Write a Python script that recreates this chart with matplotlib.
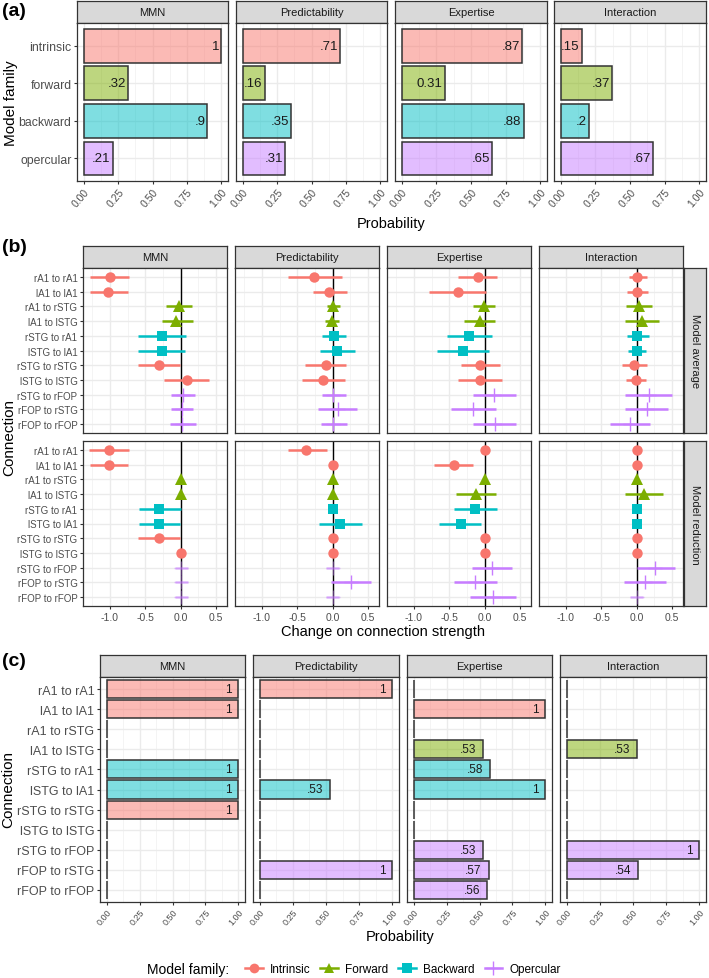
import numpy as np
import matplotlib
matplotlib.use("Agg")
import matplotlib.pyplot as plt
from matplotlib.colors import to_rgba
from matplotlib.lines import Line2D

plt.rcParams['font.family'] = ['Liberation Sans', 'DejaVu Sans']

# --------------------------
# Daten
# --------------------------
conditions = ["MMN", "Predictability", "Expertise", "Interaction"]
families = ["intrinsic", "forward", "backward", "opercular"]
family_names = ["Intrinsic", "Forward", "Backward", "Opercular"]
family_colors = ["#F8766D", "#7CAE00", "#00BFC4", "#C77CFF"]
family_markers = ["o", "^", "s", "+"]

# (a) Wahrscheinlichkeit je Modellfamilie
a_mmn = [1.00, 0.32, 0.90, 0.21]
a_pred = [0.71, 0.16, 0.35, 0.31]
a_exp = [0.87, 0.31, 0.88, 0.65]
a_int = [0.15, 0.37, 0.20, 0.67]
a_mmn_lab = ["1", ".32", ".9", ".21"]
a_pred_lab = [".71", ".16", ".35", ".31"]
a_exp_lab = [".87", "0.31", ".88", ".65"]
a_int_lab = [".15", ".37", ".2", ".67"]

connections = ["rA1 to rA1", "lA1 to lA1", "rA1 to rSTG", "lA1 to lSTG",
               "rSTG to rA1", "lSTG to lA1", "rSTG to rSTG", "lSTG to lSTG",
               "rSTG to rFOP", "rFOP to rSTG", "rFOP to rFOP"]
conn_family = [0, 0, 1, 1, 2, 2, 0, 0, 3, 3, 3]

# (b) Model average
avg_mmn_est = [-1.00, -1.02, -0.03, -0.06, -0.27, -0.27, -0.31, 0.09, 0.03, 0.02, 0.02]
avg_mmn_lo = [-1.28, -1.28, -0.20, -0.27, -0.60, -0.60, -0.60, -0.23, -0.13, -0.13, -0.15]
avg_mmn_hi = [-0.73, -0.75, 0.16, 0.17, 0.07, 0.06, -0.01, 0.40, 0.20, 0.18, 0.21]

avg_pred_est = [-0.26, -0.05, 0.01, -0.01, 0.02, 0.06, -0.10, -0.13, 0.01, 0.07, 0.01]
avg_pred_lo = [-0.63, -0.28, -0.08, -0.11, -0.15, -0.18, -0.39, -0.44, -0.15, -0.20, -0.16]
avg_pred_hi = [0.13, 0.20, 0.10, 0.09, 0.19, 0.31, 0.19, 0.18, 0.19, 0.35, 0.20]

avg_exp_est = [-0.10, -0.38, -0.01, -0.07, -0.22, -0.31, -0.07, -0.07, 0.13, -0.16, 0.14]
avg_exp_lo = [-0.37, -0.78, -0.17, -0.29, -0.53, -0.67, -0.34, -0.37, -0.17, -0.47, -0.17]
avg_exp_hi = [0.17, 0.02, 0.15, 0.15, 0.10, 0.06, 0.21, 0.24, 0.44, 0.16, 0.45]

avg_int_est = [0.01, 0.01, 0.03, 0.07, 0.01, 0.00, -0.04, -0.01, 0.17, 0.15, -0.10]
avg_int_lo = [-0.11, -0.13, -0.15, -0.17, -0.14, -0.12, -0.21, -0.15, -0.16, -0.16, -0.38]
avg_int_hi = [0.15, 0.16, 0.21, 0.32, 0.17, 0.13, 0.15, 0.13, 0.50, 0.45, 0.19]

# (b) Model reduction
red_mmn_est = [-1.01, -1.01, 0, 0, -0.30, -0.30, -0.31, 0, 0, 0, 0]
red_mmn_lo = [-1.29, -1.28, 0, 0, -0.59, -0.59, -0.60, 0, -0.08, -0.08, -0.08]
red_mmn_hi = [-0.73, -0.75, 0, 0, 0.00, -0.01, -0.01, 0, 0.10, 0.10, 0.10]

red_pred_est = [-0.37, 0, 0, 0, 0, 0.10, 0, 0, 0, 0.26, 0]
red_pred_lo = [-0.63, 0, 0, 0, 0, -0.19, 0, 0, -0.09, -0.03, -0.09]
red_pred_hi = [-0.08, 0, 0, 0, 0, 0.41, 0, 0, 0.09, 0.54, 0.09]

red_exp_est = [0, -0.44, 0, -0.12, -0.14, -0.34, 0, 0, 0.11, -0.13, 0.12]
red_exp_lo = [0, -0.72, 0, -0.40, -0.44, -0.64, 0, 0, -0.18, -0.43, -0.20]
red_exp_hi = [0, -0.16, 0, 0.16, 0.17, -0.05, 0, 0, 0.39, 0.17, 0.45]

red_int_est = [0, 0, 0, 0.10, 0, 0, 0, 0, 0.26, 0.12, 0]
red_int_lo = [0, 0, 0, -0.17, 0, 0, 0, 0, 0.00, -0.18, -0.09]
red_int_hi = [0, 0, 0, 0.37, 0, 0, 0, 0, 0.54, 0.42, 0.09]

# (c) Wahrscheinlichkeit je Verbindung
c_mmn = [1, 1, 0, 0, 1, 1, 1, 0, 0, 0, 0]
c_pred = [1, 0, 0, 0, 0, 0.53, 0, 0, 0, 1, 0]
c_exp = [0, 1, 0, 0.53, 0.58, 1, 0, 0, 0.53, 0.57, 0.56]
c_int = [0, 0, 0, 0.53, 0, 0, 0, 0, 1, 0.54, 0]

# --------------------------
# Layout (Pixel)
# --------------------------
W, H = 709, 979
fig = plt.figure(figsize=(W / 100, H / 100), dpi=100)

DARK = "#333333"
TICKCOL = "#4D4D4D"


def add_ax(x0, y0, x1, y1):
    return fig.add_axes([x0 / W, 1 - y1 / H, (x1 - x0) / W, (y1 - y0) / H])


def strip(x0, y0, x1, y1, text, rot=0):
    s = add_ax(x0, y0, x1, y1)
    s.set_facecolor("#D9D9D9")
    s.set_xticks([])
    s.set_yticks([])
    for sp in s.spines.values():
        sp.set_color(DARK)
        sp.set_linewidth(0.9)
    s.text(0.5, 0.5, text, ha="center", va="center", rotation=rot,
           fontsize=8, color="#1A1A1A", transform=s.transAxes)


def base_style(ax):
    for sp in ax.spines.values():
        sp.set_color(DARK)
        sp.set_linewidth(0.9)
    ax.set_axisbelow(True)
    ax.grid(which="major", color="#EBEBEB", lw=1.0)
    ax.grid(which="minor", axis="x", color="#F2F2F2", lw=0.6)
    ax.tick_params(which="major", color=DARK, labelcolor=TICKCOL, length=2.5, width=0.8, pad=1.5)
    ax.tick_params(which="minor", length=0)


def fmt(v):
    return "1" if v == 1 else f"{v:.2f}".lstrip("0")


def bar_panel(ax, vals, labels, colors, lab_size, pad, show_y, ylabels, ysize, xsize):
    n = len(vals)
    y = np.arange(n)
    ax.barh(y, vals, height=0.9, color=[to_rgba(c, 0.5) for c in colors],
            edgecolor=DARK, linewidth=1.1, zorder=2)
    for yi, v, lab in zip(y, vals, labels):
        if v > 0:
            ax.annotate(lab, (v, yi), xytext=(pad, 0), textcoords="offset points",
                        ha="right", va="center", fontsize=lab_size, color="#1A1A1A", zorder=3)
    ax.set_xlim(-0.05, 1.05)
    ax.set_ylim(n - 0.4, -0.6)
    ax.set_xticks([0, 0.25, 0.5, 0.75, 1.0])
    ax.set_xticks([0.125, 0.375, 0.625, 0.875], minor=True)
    ax.set_xticklabels(["0.00", "0.25", "0.50", "0.75", "1.00"], rotation=50,
                       ha="right", rotation_mode="anchor", fontsize=xsize)
    ax.set_yticks(y)
    base_style(ax)
    if show_y:
        ax.set_yticklabels(ylabels, fontsize=ysize)
    else:
        ax.tick_params(axis="y", left=False, labelleft=False)


def point_panel(ax, est, lo, hi, show_y, show_x):
    ax.axvline(0, color="black", lw=1.0, zorder=2)
    for i, (m, l, h) in enumerate(zip(est, lo, hi)):
        fam = conn_family[i]
        col = family_colors[fam]
        alpha = 0.45 if (fam == 3 and m == 0) else 1.0
        if h > l:
            ax.plot([l, h], [i, i], color=col, lw=1.8, alpha=alpha, zorder=3,
                    solid_capstyle="butt")
        if fam == 3:
            ax.plot(m, i, marker="+", ms=10, mew=1.0, color=col, alpha=alpha, zorder=4)
        else:
            ms = {0: 7.5, 1: 8.0, 2: 7.0}[fam]
            ax.plot(m, i, marker=family_markers[fam], ms=ms, mew=0, color=col, zorder=4)
    ax.set_xlim(-1.38, 0.655)
    ax.set_ylim(10.6, -0.6)
    ax.set_xticks([-1.0, -0.5, 0.0, 0.5])
    ax.set_xticks([-1.25, -0.75, -0.25, 0.25], minor=True)
    ax.set_yticks(range(len(est)))
    base_style(ax)
    if show_x:
        ax.set_xticklabels(["-1.0", "-0.5", "0.0", "0.5"], fontsize=7.5)
    else:
        ax.tick_params(axis="x", bottom=False, labelbottom=False)
    if show_y:
        ax.set_yticklabels(connections, fontsize=7)
    else:
        ax.tick_params(axis="y", left=False, labelleft=False)


# --------------------------
# (a)
# --------------------------
a_x = [(77, 228), (236, 387), (395, 547), (554, 706)]
a_vals = [a_mmn, a_pred, a_exp, a_int]
a_labs = [a_mmn_lab, a_pred_lab, a_exp_lab, a_int_lab]
for k, (x0, x1) in enumerate(a_x):
    strip(x0, 2, x1, 24, conditions[k])
    ax = add_ax(x0, 24, x1, 182)
    bar_panel(ax, a_vals[k], a_labs[k], family_colors, 9.5, -1.5, k == 0,
              families, 8.8, 7.5)

fig.text(2 / W, 1 - 12 / H, "(a)", fontsize=14, fontweight="bold", va="center")
fig.text(11 / W, 1 - 103 / H, "Model family", rotation=90, fontsize=11,
         va="center", ha="center")
fig.text(391 / W, 1 - 224 / H, "Probability", fontsize=10.5, va="center", ha="center")

# --------------------------
# (b)
# --------------------------
b_x = [(83, 227), (235, 379), (387, 531), (539, 683)]
b_rows = [(269, 434), (442, 607)]
b_avg = [(avg_mmn_est, avg_mmn_lo, avg_mmn_hi), (avg_pred_est, avg_pred_lo, avg_pred_hi),
         (avg_exp_est, avg_exp_lo, avg_exp_hi), (avg_int_est, avg_int_lo, avg_int_hi)]
b_red = [(red_mmn_est, red_mmn_lo, red_mmn_hi), (red_pred_est, red_pred_lo, red_pred_hi),
         (red_exp_est, red_exp_lo, red_exp_hi), (red_int_est, red_int_lo, red_int_hi)]
for k, (x0, x1) in enumerate(b_x):
    strip(x0, 247, x1, 269, conditions[k])
    for r, data in enumerate([b_avg, b_red]):
        y0, y1 = b_rows[r]
        ax = add_ax(x0, y0, x1, y1)
        est, lo, hi = data[k]
        point_panel(ax, est, lo, hi, k == 0, r == 1)

strip(684, 269, 706, 434, "Model average", rot=-90)
strip(684, 442, 706, 607, "Model reduction", rot=-90)

fig.text(2 / W, 1 - 247 / H, "(b)", fontsize=14, fontweight="bold", va="center")
fig.text(9 / W, 1 - 438 / H, "Connection", rotation=90, fontsize=11,
         va="center", ha="center")
fig.text(383 / W, 1 - 632 / H, "Change on connection strength", fontsize=10.5,
         va="center", ha="center")

# --------------------------
# (c)
# --------------------------
c_x = [(100, 245), (253, 399), (407, 552), (560, 706)]
c_vals = [c_mmn, c_pred, c_exp, c_int]
c_colors = [family_colors[f] for f in conn_family]
for k, (x0, x1) in enumerate(c_x):
    strip(x0, 656, x1, 678, conditions[k])
    ax = add_ax(x0, 678, x1, 903)
    bar_panel(ax, c_vals[k], [fmt(v) for v in c_vals[k]], c_colors, 8.5, -5, k == 0,
              connections, 9, 6.5)

fig.text(2 / W, 1 - 662 / H, "(c)", fontsize=14, fontweight="bold", va="center")
fig.text(8 / W, 1 - 790 / H, "Connection", rotation=90, fontsize=11,
         va="center", ha="center")
fig.text(400 / W, 1 - 937 / H, "Probability", fontsize=10.5, va="center", ha="center")

# --------------------------
# Legende
# --------------------------
handles = []
for f in range(4):
    if f == 3:
        h = Line2D([0], [0], color=family_colors[f], lw=1.8, marker="+", ms=10, mew=1.0)
    else:
        h = Line2D([0], [0], color=family_colors[f], lw=1.8, marker=family_markers[f],
                   ms=7, mew=0)
    handles.append(h)
fig.text(147 / W, 1 - 970 / H, "Model family:", fontsize=10, va="center", ha="left")
fig.legend(handles, family_names, loc="center left", bbox_to_anchor=(239 / W, 1 - 970 / H),
           ncol=4, frameon=False, fontsize=8.5, handlelength=1.5, columnspacing=0.85,
           handletextpad=0.6, borderpad=0)

fig.savefig("out.png", dpi=100)
